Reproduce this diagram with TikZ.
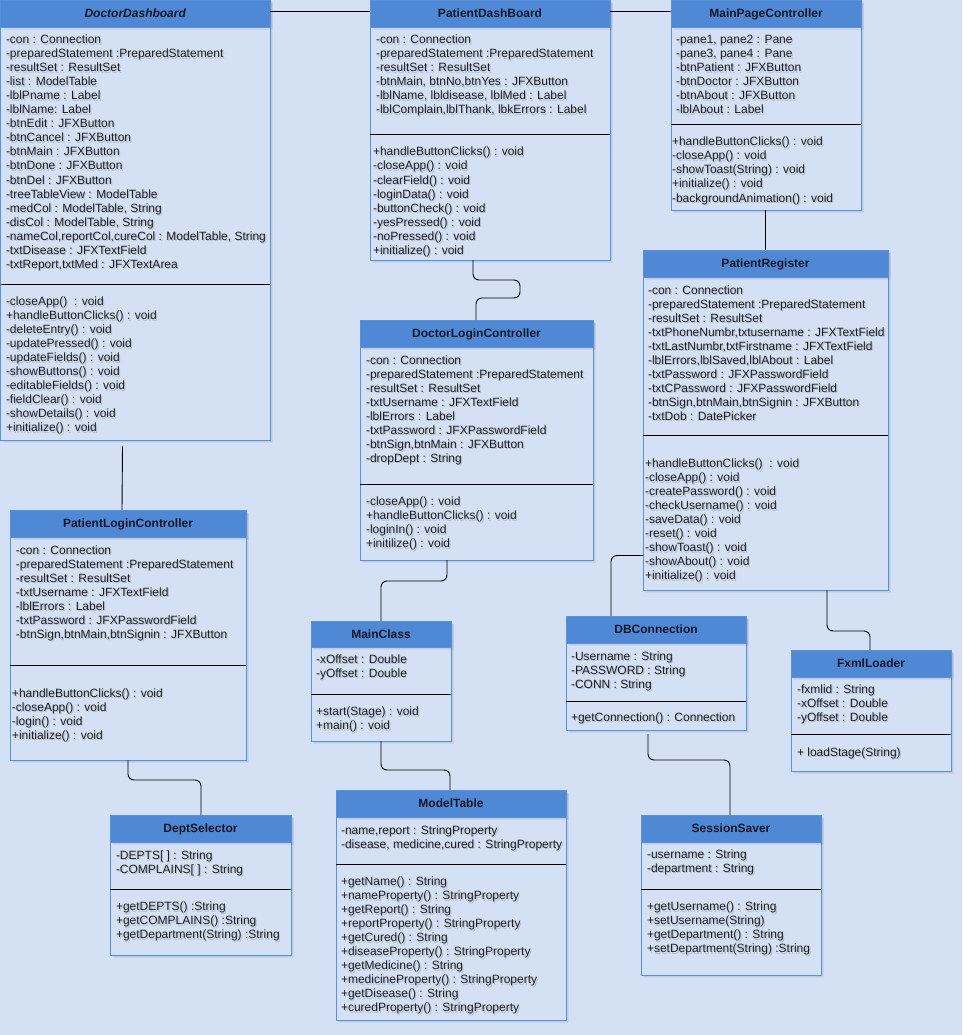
\documentclass[tikz,border=0pt]{standalone}
\usepackage{fontspec}
\setmainfont{Liberation Sans}
\definecolor{bgcol}{HTML}{D4E1F5}
\definecolor{headcol}{HTML}{4F88D4}
\definecolor{bordercol}{HTML}{5A90E0}
\definecolor{txtcol}{HTML}{1E1E1E}
\definecolor{titlecol}{HTML}{121828}
\definecolor{shadecol}{HTML}{505A6A}
\tikzset{
  classbox/.style={draw=bordercol, fill=bgcol, line width=0.9pt, anchor=north west, inner sep=0pt, outer sep=0pt},
  classhead/.style={draw=bordercol, fill=headcol, line width=0.9pt, anchor=north west, inner sep=0pt, outer sep=0pt,
    font=\bfseries\fontsize{12}{14}\selectfont, text=titlecol, text height=10pt, text depth=1.4pt},
  member/.style={anchor=base west, inner sep=0pt, outer sep=0pt, font=\fontsize{12}{14}\selectfont, text=txtcol},
  membershade/.style={member, text=shadecol, opacity=0.24},
  boxshade/.style={fill=shadecol, opacity=0.08},
  sepline/.style={draw=black, line width=0.9pt},
  conn/.style={draw=black, line width=0.9pt, rounded corners=6pt},
}
% id, x1, y1, x2, y2, header bottom, separator y, title
\newcommand\umlclass[8]{%
  \pgfmathsetmacro\ucw{#4-#2}%
  \pgfmathsetmacro\uch{#5-#3}%
  \pgfmathsetmacro\uchh{#6-#3}%
  \fill[boxshade] ({#2+1.5},{#3+1.5}) rectangle ({#4+1.5},{#5+1.5});
  \fill[boxshade] ({#2+3},{#3+3}) rectangle ({#4+3},{#5+3});
  \node[classbox, minimum width=\ucw pt, minimum height=\uch pt] (#1) at (#2,#3) {};
  \fill[boxshade] ({#2+1.5},{#3+1.5}) rectangle ({#4+1.5},{#6+1.5});
  \fill[boxshade] ({#2+3},{#3+3}) rectangle ({#4+3},{#6+3});
  \node[classhead, minimum width=\ucw pt, minimum height=\uchh pt] (#1-head) at (#1.north west) {#8};
  \draw[sepline] (#2,#7) -- (#4,#7);
}
% id, x, first line centre y, list
\newcommand\umlmembers[4]{%
  \foreach \mtext [count=\mi from 0] in {#4} {%
    \node[membershade] (#1-\mi-shade) at ({#2+1.2},{#3+5.5+14*\mi}) {\mtext};
    \node[member] (#1-\mi) at ({#2},{#3+4+14*\mi}) {\mtext};}
}
\begin{document}
\begin{tikzpicture}[x=1pt,y=-1pt]
\fill[bgcol] (0,0) rectangle (962,1035);
\useasboundingbox (0,0) rectangle (962,1035);

% DoctorDashboard
\umlclass{dd}{0.5}{0}{270}{440}{27}{284}{\itshape DoctorDashboard}
\umlmembers{dd-f}{6}{40}{-con : Connection, -preparedStatement :PreparedStatement, -resultSet : ResultSet,
  -list : ModelTable, -lblPname : Label, -lblName: Label, -btnEdit : JFXButton, -btnCancel : JFXButton,
  -btnMain : JFXButton, -btnDone : JFXButton, -btnDel : JFXButton, -treeTableView : ModelTable,
  {-medCol : ModelTable, String}, {-disCol : ModelTable, String}, {-nameCol,reportCol,cureCol : ModelTable, String},
  -txtDisease : JFXTextField, {-txtReport,txtMed : JFXTextArea}}
\umlmembers{dd-m}{6}{301.5}{-closeApp()\ \ : void, +handleButtonClicks() : void, -deleteEntry() : void,
  -updatePressed() : void, -updateFields() : void, -showButtons() : void, -editableFields() : void,
  -fieldClear() : void, -showDetails() : void, +initialize() : void}

% PatientDashBoard
\umlclass{pd}{370}{0}{610}{260}{27}{134}{PatientDashBoard}
\umlmembers{pd-f}{376}{40}{-con : Connection, -preparedStatement :PreparedStatement, -resultSet : ResultSet,
  {-btnMain, btnNo,btnYes : JFXButton}, {-lblName, lbldisease, lblMed : Label}, {-lblComplain,lblThank, lbkErrors : Label}}
\umlmembers{pd-m}{373}{152}{+handleButtonClicks() : void, -closeApp() : void, -clearField() : void, -loginData() : void,
  -buttonCheck() : void, -yesPressed() : void, -noPressed() : void, +initialize() : void}

% MainPageController
\umlclass{mp}{671}{0}{861}{210}{27}{124}{MainPageController}
\umlmembers{mp-f}{676}{40}{{-pane1, pane2 : Pane}, {-pane3, pane4 : Pane}, -btnPatient : JFXButton,
  -btnDoctor : JFXButton, -btnAbout : JFXButton, -lblAbout : Label}
\umlmembers{mp-m}{672}{142}{+handleButtonClicks() : void, -closeApp() : void, -showToast(String) : void,
  +initialize() : void, -backgroundAnimation() : void}

% PatientRegister
\umlclass{pr}{643}{250}{888}{590}{277}{435}{PatientRegister}
\umlmembers{pr-f}{648}{290}{-con : Connection, -preparedStatement :PreparedStatement, -resultSet : ResultSet,
  {-txtPhoneNumbr,txtusername : JFXTextField}, {-txtLastNumbr,txtFirstname : JFXTextField},
  {-lblErrors,lblSaved,lblAbout : Label}, -txtPassword : JFXPasswordField, -txtCPassword : JFXPasswordField,
  {-btnSign,btnMain,btnSignin : JFXButton}, -txtDob : DatePicker}
\umlmembers{pr-m}{645}{463.5}{+handleButtonClicks()\ \ : void, -closeApp() : void, -createPassword() : void,
  -checkUsername() : void, -saveData() : void, -reset() : void, -showToast() : void, -showAbout() : void,
  +initialize() : void}

% DoctorLoginController
\umlclass{dl}{360}{320}{593}{560}{347}{484}{DoctorLoginController}
\umlmembers{dl-f}{366}{360}{-con : Connection, -preparedStatement :PreparedStatement, -resultSet : ResultSet,
  -txtUsername : JFXTextField, -lblErrors : Label, -txtPassword : JFXPasswordField,
  {-btnSign,btnMain : JFXButton}, -dropDept : String}
\umlmembers{dl-m}{366}{501.7}{-closeApp() : void, +handleButtonClicks() : void, -loginIn() : void, +initilize() : void}

% PatientLoginController
\umlclass{pl}{10}{510}{246}{760}{537}{665}{PatientLoginController}
\umlmembers{pl-f}{16}{550}{-con : Connection, -preparedStatement :PreparedStatement, -resultSet : ResultSet,
  -txtUsername : JFXTextField, -lblErrors : Label, -txtPassword : JFXPasswordField,
  {-btnSign,btnMain,btnSignin : JFXButton}}
\umlmembers{pl-m}{12}{693.3}{+handleButtonClicks() : void, -closeApp() : void, -login() : void, +initialize() : void}

% DeptSelector
\umlclass{ds}{110}{815}{291}{955}{842}{889}{DeptSelector}
\umlmembers{ds-f}{116}{855}{-DEPTS[ ] : String, -COMPLAINS[ ] : String}
\umlmembers{ds-m}{116}{906.7}{+getDEPTS() :String, +getCOMPLAINS() :String, +getDepartment(String) :String}

% MainClass
\umlclass{mc}{311}{621}{451}{741}{647}{694}{MainClass}
\umlmembers{mc-f}{316}{659.3}{-xOffset : Double, -yOffset : Double}
\umlmembers{mc-m}{316}{711.7}{+start(Stage) : void, +main() : void}

% ModelTable
\umlclass{mt}{336}{790}{566}{1020}{817}{864}{ModelTable}
\umlmembers{mt-f}{341}{830}{{-name,report : StringProperty}, {-disease, medicine,cured : StringProperty}}
\umlmembers{mt-m}{341}{881.7}{+getName() : String, +nameProperty() : StringProperty, +getReport() : String,
  +reportProperty() : StringProperty, +getCured() : String, +diseaseProperty() : StringProperty,
  +getMedicine() : String, +medicineProperty() : StringProperty, +getDisease() : String,
  +curedProperty() : StringProperty}

% DBConnection
\umlclass{db}{566}{616}{746}{730}{643}{701}{DBConnection}
\umlmembers{db-f}{571}{656}{-Username : String, -PASSWORD : String, -CONN : String}
\umlmembers{db-m}{571}{717.3}{+getConnection() : Connection}

% SessionSaver
\umlclass{ss}{641}{815}{821}{975}{842}{889}{SessionSaver}
\umlmembers{ss-f}{647}{854}{-username : String, -department : String}
\umlmembers{ss-m}{647}{906.7}{+getUsername() : String, +setUsername(String), +getDepartment() : String,
  +setDepartment(String) :String}

% FxmlLoader
\umlclass{fx}{791}{650}{951}{771}{677}{734}{FxmlLoader}
\umlmembers{fx-f}{797}{689.3}{-fxmlid : String, -xOffset : Double, -yOffset : Double}
\umlmembers{fx-m}{797}{752.3}{+ loadStage(String)}

% connectors
\draw[conn] ([yshift=-11pt]dd.north east) -- ([yshift=-11pt]pd.north west);
\draw[conn] ([yshift=-11pt]pd.north east) -- ([yshift=-11pt]mp.north west);
\draw[conn] ([xshift=103pt]pd.south west) -- ++(0,20) -- ++(47,0) -- ++(0,18) -| ([xshift=116pt]dl.north west);
\draw[conn] ([xshift=122pt,yshift=-6pt]dd.south west) -- ([xshift=112pt]pl.north west);
\draw[conn] ([xshift=118pt]pl.south west) -- ++(0,20) -| ([xshift=91pt]ds.north west);
\draw[conn] ([xshift=87pt]dl.south west) -- ++(0,21) -| ([xshift=70pt]mc.north west);
\draw[conn] ([xshift=70pt]mc.south west) -- ++(0,29) -| ([xshift=114pt]mt.north west);
\draw[conn] ([xshift=94pt]mp.south west) -- ([xshift=122pt]pr.north west);
\draw[conn] ([yshift=-305.5pt]pr.north west) -| ([xshift=45pt]db.north west);
\draw[conn] ([xshift=82pt,yshift=-4pt]db.south west) -- ++(0,26) -| ([xshift=89pt]ss.north west);
\draw[conn] ([xshift=184pt]pr.south west) -- ++(0,41) -| ([xshift=79pt]fx.north west);
\end{tikzpicture}
\end{document}
